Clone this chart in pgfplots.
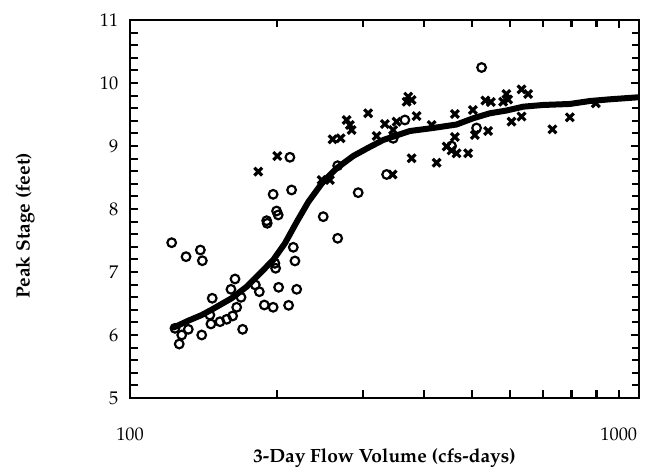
\documentclass[border=0pt]{standalone}
\usepackage[T1]{fontenc}
\usepackage{mathpazo}
\usepackage{pgfplots}
\pgfplotsset{compat=1.18}
\usepackage{pgfplotstable}

\pgfplotstableread{
x y
121.7 7.465
130.2 7.243
139.3 7.349
140.6 7.179
190.4 7.814
190.9 7.773
199.5 7.968
201.0 7.905
215.8 7.392
217.5 7.175
197.9 7.138
198.6 7.059
164.0 6.889
160.9 6.725
147.3 6.583
168.7 6.598
180.5 6.794
183.9 6.687
201.4 6.757
219.3 6.725
188.3 6.476
196.3 6.440
211.1 6.471
165.3 6.440
145.7 6.317
146.4 6.175
152.8 6.211
157.7 6.249
162.2 6.302
123.6 6.106
131.6 6.090
127.6 6.000
126.1 5.857
140.2 6.000
170.0 6.090
212.4 8.821
214.1 8.302
196.3 8.233
248.5 7.878
266.0 7.535
266.0 8.687
293.0 8.259
335.0 8.548
365.1 9.413
345.5 9.122
524.0 10.246
511.7 9.286
454.8 9.000
}\circles

\pgfplotstableread{
x y
183.0 8.592
200.1 8.841
246.6 8.460
256.4 8.460
259.7 9.106
269.7 9.122
277.4 9.413
281.8 9.333
284.0 9.254
307.1 9.519
332.3 9.349
351.1 9.386
345.5 9.254
319.6 9.159
344.5 8.548
370.8 9.783
376.8 9.730
368.0 9.703
385.7 9.476
376.8 8.805
414.0 9.333
423.9 8.735
461.9 9.508
502.8 9.571
507.6 9.175
540.3 9.238
533.3 9.722
547.2 9.698
588.8 9.825
593.8 9.738
580.0 9.703
632.4 9.900
652.4 9.825
603.4 9.386
632.4 9.468
444.3 8.992
454.8 8.929
465.7 8.884
491.8 8.884
461.9 9.143
731.7 9.265
794.0 9.456
897.4 9.678
}\crosses

\pgfplotstableread{
x y
122.6 6.116
131.6 6.227
140.2 6.317
147.8 6.413
161.4 6.583
173.3 6.767
184.5 6.979
196.3 7.190
207.5 7.456
219.3 7.794
231.6 8.111
248.5 8.437
264.7 8.646
286.2 8.841
306.6 8.968
329.6 9.095
351.1 9.167
373.8 9.238
417.2 9.286
465.7 9.341
503.6 9.440
544.7 9.519
589.2 9.563
637.3 9.624
700.1 9.651
794.0 9.667
872.5 9.714
958.5 9.741
1095 9.773
}\curve

\begin{document}
\begin{tikzpicture}
\begin{axis}[
  scale only axis,
  width=305.4pt, height=226.8pt,
  xmode=log, xmin=100, xmax=1100,
  ymin=5, ymax=11,
  xtick={100,1000}, xticklabels={100,1000},
  minor xtick={200,300,400,500,600,700,800,900},
  ytick={5,6,7,8,9,10,11},
  minor y tick num=4,
  tickwidth=5pt, subtickwidth=4.5pt,
  major tick style={black, line width=1.3pt},
  minor tick style={black, line width=1.3pt},
  axis line style={line width=1.2pt},
  tick label style={font=\fontsize{11}{13}\selectfont},
  xticklabel style={yshift=-14.3pt},
  yticklabel style={xshift=-3.5pt},
  xlabel={\bfseries 3-Day Flow Volume (cfs-days)},
  ylabel={\bfseries Peak Stage (feet)},
  label style={font=\fontsize{11.5}{13}\selectfont},
  xlabel style={at={(axis description cs:0.5,-0.159)}, anchor=center},
  ylabel style={at={(axis description cs:-0.206,0.455)}, anchor=center},
]
\addplot[only marks, mark=o, mark size=2.6pt, mark options={line width=1.3pt, black}] table[x=x,y=y]{\circles};
\addplot[only marks, mark=x, mark size=3.3pt, mark options={line width=1.9pt, black}] table[x=x,y=y]{\crosses};
\addplot[black, line width=3.6pt, line join=round, line cap=round, no marks] table[x=x,y=y]{\curve};
\coordinate (SW) at (rel axis cs:0,0);
\coordinate (NE) at (rel axis cs:1,1);
\end{axis}
\pgfresetboundingbox
\path[use as bounding box] ([xshift=-78pt,yshift=-43.8pt]SW) rectangle ([xshift=7.2pt,yshift=12pt]NE);
\end{tikzpicture}
\end{document}
